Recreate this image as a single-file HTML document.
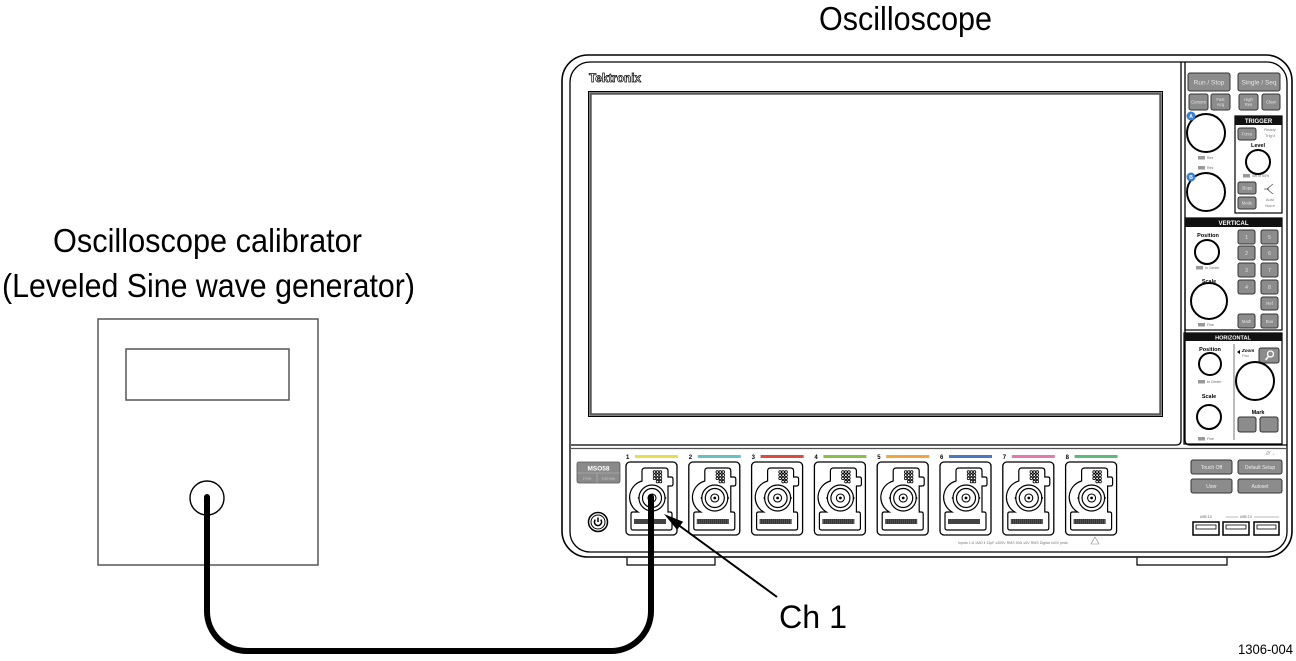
<!DOCTYPE html>
<html><head><meta charset="utf-8"><style>html,body{margin:0;padding:0;background:#fff;}svg{display:block}</style></head>
<body>
<svg width="1296" height="661" viewBox="0 0 1296 661" xmlns="http://www.w3.org/2000/svg" font-family="'Liberation Sans', Arial, sans-serif">
<defs>
  <g id="conn">
    <rect x="0" y="0" width="51" height="73" rx="4" fill="#fff" stroke="#000" stroke-width="1.3"/>
    <path d="M19 6 H39 Q42 6 42 9 V15 H45 Q47 15 47 17 V22 Q47 24 45 24 H42 V50 H44 Q46 50 46 52 V66 Q46 68 44 68 H7 Q5 68 5 66 V52 Q5 50 7 50 H12 A17 17 0 0 1 16 19 V9 Q16 6 19 6 Z" fill="#fff" stroke="#000" stroke-width="1.2"/>
    <circle cx="26" cy="36" r="13" fill="#fff" stroke="#000" stroke-width="1.2"/>
    <circle cx="26" cy="36" r="9.5" fill="none" stroke="#000" stroke-width="1.2"/>
    <circle cx="26" cy="36" r="4" fill="none" stroke="#000" stroke-width="1.1"/>
    <circle cx="26" cy="36" r="1.4" fill="#000"/>
    <path d="M11.5 36 l2 -2 v4 z M40.5 36 l-2 -2 v4 z" fill="#000"/>
    <g fill="none" stroke="#000" stroke-width="0.8">
      <circle cx="28.5" cy="10" r="1.3"/><circle cx="31.5" cy="10" r="1.3"/><circle cx="34.5" cy="10" r="1.3"/>
      <circle cx="28.5" cy="13.2" r="1.3"/><circle cx="31.5" cy="13.2" r="1.3"/><circle cx="34.5" cy="13.2" r="1.3"/>
      <circle cx="28.5" cy="16.4" r="1.3"/><circle cx="31.5" cy="16.4" r="1.3"/><circle cx="34.5" cy="16.4" r="1.3"/>
      <circle cx="31.5" cy="19.6" r="1.3"/><circle cx="34.5" cy="19.6" r="1.3"/>
    </g>
    <rect x="8" y="57" width="32" height="5" fill="#333"/>
    <path d="M9 57 v5 M11 57 v5 M13 57 v5 M15 57 v5 M17 57 v5 M19 57 v5 M21 57 v5 M23 57 v5 M25 57 v5 M27 57 v5 M29 57 v5 M31 57 v5 M33 57 v5 M35 57 v5 M37 57 v5 M39 57 v5" stroke="#888" stroke-width="0.4"/>
  </g>
</defs>

<!-- Titles -->
<text x="819" y="30" font-size="33" textLength="173" lengthAdjust="spacingAndGlyphs">Oscilloscope</text>
<text x="53" y="252" font-size="33" textLength="309" lengthAdjust="spacingAndGlyphs">Oscilloscope calibrator</text>
<text x="2" y="297" font-size="33" textLength="413" lengthAdjust="spacingAndGlyphs">(Leveled Sine wave generator)</text>

<!-- Calibrator -->
<rect x="98" y="319" width="220" height="246" fill="none" stroke="#555" stroke-width="1.5"/>
<rect x="126" y="349" width="163" height="51" fill="none" stroke="#555" stroke-width="1.5"/>
<circle cx="207" cy="498" r="17" fill="none" stroke="#000" stroke-width="1.4"/>

<!-- Oscilloscope body -->
<rect x="562" y="55" width="730" height="502" rx="26" fill="#fff" stroke="#000" stroke-width="1.6"/>
<rect x="570" y="62" width="717" height="490" rx="20" fill="none" stroke="#000" stroke-width="1.3"/>
<!-- feet -->
<path d="M627 557.8 V565 H715 V557.8 M1137 557.8 V565 H1227 V557.8" fill="none" stroke="#000" stroke-width="1.2"/>
<!-- panel dividers -->
<path d="M1181 62 V440 Q1181 445 1176 445 H571" fill="none" stroke="#000" stroke-width="1.3"/>
<path d="M1185 62 V440 Q1185 445 1190 445 H1287" fill="none" stroke="#000" stroke-width="1.3"/>
<line x1="571" y1="448.5" x2="1287" y2="448.5" stroke="#555" stroke-width="1.2"/>

<!-- Screen -->
<rect x="588.5" y="91.5" width="574" height="325" fill="none" stroke="#000" stroke-width="1"/>
<rect x="590.5" y="93.5" width="570" height="321" fill="#fff" stroke="#5a5a5a" stroke-width="2.5"/>
<text x="589" y="82" font-size="12" font-weight="bold" fill="#fff" stroke="#000" stroke-width="0.7" textLength="52" lengthAdjust="spacingAndGlyphs">Tektronix</text>

<!-- Right control panel -->
<g stroke="#333" stroke-width="1" fill="#8c8c8c">
  <rect x="1188" y="73" width="42" height="18" rx="2"/>
  <rect x="1238" y="73" width="42" height="18" rx="2"/>
  <rect x="1189" y="94" width="19" height="16" rx="2"/>
  <rect x="1211" y="94" width="19" height="16" rx="2"/>
  <rect x="1239" y="94" width="19" height="16" rx="2"/>
  <rect x="1262" y="94" width="18" height="16" rx="2"/>
</g>
<g fill="#e6e6e6" font-size="6.5" text-anchor="middle">
  <text x="1209" y="84.5">Run / Stop</text>
  <text x="1259" y="84.5">Single / Seq</text>
  <g font-size="4.2">
    <text x="1198.5" y="103.5">Cursors</text>
    <text x="1220.5" y="101">Fast</text><text x="1220.5" y="106">Acq</text>
    <text x="1248.5" y="101">High</text><text x="1248.5" y="106">Res</text>
    <text x="1271" y="103.5">Clear</text>
  </g>
</g>

<!-- Knobs A/B -->
<circle cx="1206" cy="133" r="19" fill="#fff" stroke="#000" stroke-width="2"/>
<circle cx="1191" cy="116" r="4.5" fill="#3a7fd0"/>
<text x="1191" y="118" font-size="5" fill="#fff" text-anchor="middle" font-weight="bold">A</text>
<rect x="1198" y="156" width="7" height="3.5" fill="#999"/>
<text x="1207" y="159" font-size="3.5" fill="#666">Res</text>
<rect x="1198" y="166" width="7" height="3.5" fill="#999"/>
<text x="1207" y="169" font-size="3.5" fill="#666">Res</text>
<circle cx="1206" cy="192" r="19" fill="#fff" stroke="#000" stroke-width="2"/>
<circle cx="1191" cy="177" r="4.5" fill="#3a7fd0"/>
<text x="1191" y="179" font-size="5" fill="#fff" text-anchor="middle" font-weight="bold">B</text>

<!-- Trigger -->
<rect x="1235" y="116" width="47" height="97" fill="none" stroke="#000" stroke-width="1.2"/>
<rect x="1235" y="116" width="47" height="9" fill="#111"/>
<text x="1258.5" y="123" font-size="6" font-weight="bold" fill="#fff" text-anchor="middle">TRIGGER</text>
<g stroke="#333" stroke-width="1" fill="#8c8c8c">
  <rect x="1238" y="128" width="18" height="12" rx="2"/>
  <rect x="1238" y="182" width="18" height="12" rx="2"/>
  <rect x="1238" y="197" width="18" height="12" rx="2"/>
</g>
<g font-size="4.2" fill="#e6e6e6" text-anchor="middle">
  <text x="1247" y="135.5">Force</text>
  <text x="1247" y="189.5">Slope</text>
  <text x="1247" y="204.5">Mode</text>
</g>
<g font-size="4" fill="#777" text-anchor="middle">
  <text x="1270" y="131">Ready</text><text x="1270" y="137">Trig'd</text>
  <text x="1270" y="201">Auto</text><text x="1270" y="207">Norm</text>
</g>
<text x="1258" y="147" font-size="5.5" font-weight="bold" text-anchor="middle">Level</text>
<circle cx="1258" cy="162" r="12" fill="#fff" stroke="#000" stroke-width="2"/>
<rect x="1243" y="174" width="7" height="3.5" fill="#999"/>
<text x="1252" y="177" font-size="3.5" fill="#666">Set to 50%</text>
<path d="M1273 184 L1267 189 L1273 194 M1264 189 H1269" fill="none" stroke="#555" stroke-width="0.8"/>

<!-- Vertical -->
<rect x="1185" y="218" width="97" height="112" fill="none" stroke="#000" stroke-width="1.2"/>
<rect x="1185" y="218" width="97" height="9" fill="#111"/>
<text x="1233.5" y="225" font-size="6" font-weight="bold" fill="#fff" text-anchor="middle">VERTICAL</text>
<text x="1208" y="237" font-size="5.5" font-weight="bold" text-anchor="middle">Position</text>
<circle cx="1207" cy="252" r="12" fill="#fff" stroke="#000" stroke-width="2"/>
<rect x="1196" y="266" width="7" height="3.5" fill="#999"/>
<text x="1205" y="269" font-size="3.5" fill="#666">to Center</text>
<text x="1209" y="283" font-size="5.5" font-weight="bold" text-anchor="middle">Scale</text>
<circle cx="1209" cy="301" r="18" fill="#fff" stroke="#000" stroke-width="2"/>
<rect x="1198" y="323" width="7" height="3.5" fill="#999"/>
<text x="1207" y="326" font-size="3.5" fill="#666">Fine</text>
<g stroke="#333" stroke-width="1" fill="#8c8c8c">
  <rect x="1238" y="230" width="17" height="14" rx="2"/><rect x="1261" y="230" width="17" height="14" rx="2"/>
  <rect x="1238" y="246" width="17" height="14" rx="2"/><rect x="1261" y="246" width="17" height="14" rx="2"/>
  <rect x="1238" y="263" width="17" height="14" rx="2"/><rect x="1261" y="263" width="17" height="14" rx="2"/>
  <rect x="1238" y="280" width="17" height="14" rx="2"/><rect x="1261" y="280" width="17" height="14" rx="2"/>
  <rect x="1261" y="297" width="17" height="13" rx="2"/>
  <rect x="1238" y="314" width="17" height="14" rx="2"/><rect x="1261" y="314" width="17" height="14" rx="2"/>
</g>
<g font-size="5" fill="#e6e6e6" text-anchor="middle">
  <text x="1246.5" y="239">1</text><text x="1269.5" y="239">5</text>
  <text x="1246.5" y="255">2</text><text x="1269.5" y="255">6</text>
  <text x="1246.5" y="272">3</text><text x="1269.5" y="272">7</text>
  <text x="1246.5" y="289">4</text><text x="1269.5" y="289">8</text>
  <text x="1269.5" y="305" font-size="4.2">Ref</text>
  <text x="1246.5" y="323" font-size="4.2">Math</text><text x="1269.5" y="323" font-size="4.2">Bus</text>
</g>

<!-- Horizontal -->
<rect x="1184" y="333" width="98" height="111" fill="none" stroke="#000" stroke-width="1.2"/>
<rect x="1184" y="333" width="98" height="8" fill="#111"/>
<text x="1233" y="339.5" font-size="5.5" font-weight="bold" fill="#fff" text-anchor="middle">HORIZONTAL</text>
<line x1="1234" y1="344" x2="1234" y2="440" stroke="#555" stroke-width="0.8"/>
<text x="1210" y="351" font-size="5.5" font-weight="bold" text-anchor="middle">Position</text>
<circle cx="1210" cy="364" r="11" fill="#fff" stroke="#000" stroke-width="2"/>
<rect x="1198" y="380" width="7" height="3.5" fill="#999"/>
<text x="1207" y="383" font-size="3.5" fill="#666">to Center</text>
<text x="1209" y="398" font-size="5.5" font-weight="bold" text-anchor="middle">Scale</text>
<circle cx="1209" cy="417" r="12" fill="#fff" stroke="#000" stroke-width="2"/>
<rect x="1198" y="437" width="7" height="3.5" fill="#999"/>
<text x="1207" y="440" font-size="3.5" fill="#666">Fine</text>
<text x="1242" y="352" font-size="4.5" font-weight="bold" font-style="italic">Zoom</text>
<text x="1242" y="357" font-size="4" fill="#777">Pan</text>
<path d="M1237 352 l3 -2 v4 z" fill="#000"/>
<rect x="1259" y="348" width="20" height="15" rx="2" fill="#8c8c8c" stroke="#333" stroke-width="1"/>
<circle cx="1270.5" cy="354" r="3" fill="none" stroke="#fff" stroke-width="1.3"/>
<line x1="1268.5" y1="356.5" x2="1265.5" y2="360" stroke="#fff" stroke-width="1.5"/>
<circle cx="1255" cy="381" r="19" fill="#fff" stroke="#000" stroke-width="2"/>
<text x="1258" y="414" font-size="5.5" font-weight="bold" text-anchor="middle">Mark</text>
<rect x="1238" y="417" width="18" height="15" rx="2" fill="#8c8c8c" stroke="#333" stroke-width="1"/>
<rect x="1260" y="417" width="18" height="15" rx="2" fill="#8c8c8c" stroke="#333" stroke-width="1"/>

<!-- Lower strip: badge + power -->
<rect x="577" y="462" width="43" height="21" rx="2" fill="#8a8a8a" stroke="#555" stroke-width="0.8"/>
<line x1="577" y1="473" x2="620" y2="473" stroke="#bbb" stroke-width="0.6"/>
<line x1="597" y1="473" x2="597" y2="483" stroke="#bbb" stroke-width="0.6"/>
<text x="598.5" y="470.5" font-size="6.5" font-weight="bold" fill="#fff" text-anchor="middle">MSO58</text>
<text x="587" y="479.5" font-size="3" fill="#ddd" text-anchor="middle">2 GHz</text>
<text x="608.5" y="479.5" font-size="3" fill="#ddd" text-anchor="middle">6.25 GS/s</text>
<circle cx="598" cy="522" r="9.5" fill="#fff" stroke="#000" stroke-width="1.5"/>
<circle cx="598" cy="522" r="7" fill="none" stroke="#000" stroke-width="1"/>
<path d="M595.3 519.6 A3.6 3.6 0 1 0 600.7 519.6" fill="none" stroke="#000" stroke-width="1.5"/>
<line x1="598" y1="517.5" x2="598" y2="522" stroke="#000" stroke-width="1.5"/>

<!-- Channels -->
<g font-size="6" font-weight="bold">
<g transform="translate(626,462)"><text x="0" y="-3">1</text><rect x="9" y="-7" width="43" height="3" fill="#e4df4c"/><use href="#conn"/></g>
<g transform="translate(688.8,462)"><text x="0" y="-3">2</text><rect x="9" y="-7" width="43" height="3" fill="#62c2c4"/><use href="#conn"/></g>
<g transform="translate(751.6,462)"><text x="0" y="-3">3</text><rect x="9" y="-7" width="43" height="3" fill="#d94a3f"/><use href="#conn"/></g>
<g transform="translate(814.4,462)"><text x="0" y="-3">4</text><rect x="9" y="-7" width="43" height="3" fill="#8cbf4a"/><use href="#conn"/></g>
<g transform="translate(877.2,462)"><text x="0" y="-3">5</text><rect x="9" y="-7" width="43" height="3" fill="#f0a540"/><use href="#conn"/></g>
<g transform="translate(940,462)"><text x="0" y="-3">6</text><rect x="9" y="-7" width="43" height="3" fill="#4a78c0"/><use href="#conn"/></g>
<g transform="translate(1002.8,462)"><text x="0" y="-3">7</text><rect x="9" y="-7" width="43" height="3" fill="#e57aa8"/><use href="#conn"/></g>
<g transform="translate(1065.6,462)"><text x="0" y="-3">8</text><rect x="9" y="-7" width="43" height="3" fill="#5cba7a"/><use href="#conn"/></g>
</g>
<text x="958" y="544" font-size="3.6" fill="#777">Inputs 1-8   1MΩ ‖ 13pF ≤300V RMS   50Ω ≤5V RMS   Digital ±40V peak</text>
<path d="M1095 537 L1099 544 H1091 Z" fill="none" stroke="#888" stroke-width="0.6"/>

<!-- Right bottom buttons -->
<g stroke="#333" stroke-width="1" fill="#8c8c8c">
  <rect x="1191" y="460" width="41" height="14" rx="2"/>
  <rect x="1238" y="460" width="44" height="14" rx="2"/>
  <rect x="1191" y="479" width="41" height="14" rx="2"/>
  <rect x="1238" y="479" width="44" height="14" rx="2"/>
</g>
<g font-size="5" fill="#eee" text-anchor="middle">
  <text x="1211.5" y="469">Touch Off</text>
  <text x="1260" y="469">Default Setup</text>
  <text x="1211.5" y="488">User</text>
  <text x="1260" y="488">Autoset</text>
</g>
<text x="1266" y="455" font-size="5" fill="#777" font-style="italic">///→</text>
<text x="1200" y="518" font-size="3.2" fill="#555">USB 3.0</text>
<line x1="1226" y1="517" x2="1238" y2="517" stroke="#777" stroke-width="0.5"/>
<text x="1240" y="518" font-size="3.2" fill="#555">USB 2.0</text>
<line x1="1254" y1="517" x2="1279" y2="517" stroke="#777" stroke-width="0.5"/>
<g fill="none" stroke="#000">
  <rect x="1193" y="522" width="26" height="13" stroke-width="1.5"/>
  <rect x="1223" y="522" width="26" height="13" stroke-width="1.5"/>
  <rect x="1254" y="522" width="25" height="13" stroke-width="1.5"/>
  <rect x="1196" y="525" width="20" height="4" stroke-width="0.8"/>
  <rect x="1226" y="525" width="20" height="4" stroke-width="0.8"/>
  <rect x="1257" y="525" width="19" height="4" stroke-width="0.8"/>
</g>

<!-- Cable -->
<path d="M207 497 V611 A40 40 0 0 0 247 651 H611 A40 40 0 0 0 651 611 V497" fill="none" stroke="#000" stroke-width="6" stroke-linecap="round"/>

<!-- Arrow -->
<line x1="777" y1="597" x2="677" y2="524" stroke="#000" stroke-width="2"/>
<polygon points="664,514 677.1,529.9 683.1,521.8" fill="#000"/>
<text x="779" y="628" font-size="32" textLength="68" lengthAdjust="spacingAndGlyphs">Ch 1</text>

<text x="1238" y="654" font-size="14" textLength="55" lengthAdjust="spacingAndGlyphs">1306-004</text>
</svg>
</body></html>
